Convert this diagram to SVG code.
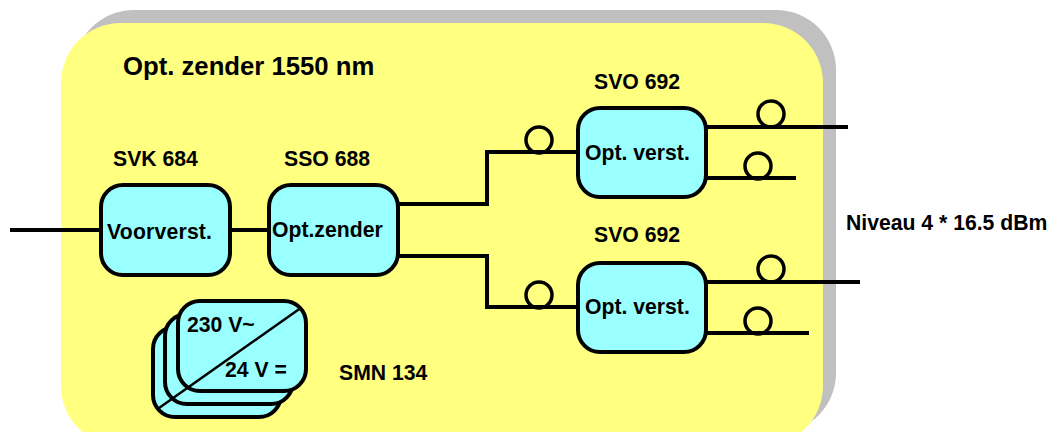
<svg xmlns="http://www.w3.org/2000/svg" width="1050" height="432" viewBox="0 0 1050 432">
<style>
text{font-family:"Liberation Sans",Arial,sans-serif;font-weight:bold;font-size:21.2px;fill:#000}
.box{fill:#99ffff;stroke:#000;stroke-width:4}
.ln{fill:none;stroke:#000;stroke-width:4;stroke-linejoin:miter}
.coil{fill:none;stroke:#000;stroke-width:3.5}
</style>
<rect width="1050" height="432" fill="#fff"/>
<g id="panel">
<rect x="74" y="10" width="762" height="423" rx="60" fill="#c0c0c0"/>
<rect x="61" y="23" width="762" height="423" rx="60" fill="#ffff80"/>
</g>
<text x="123" y="75" style="font-size:25.7px">Opt. zender 1550 nm</text>
<g id="connectors">
<path class="ln" d="M10 230H100M230 230H268M398 204H487V152H578M398 256H487V307H578M706 127H848M706 178H796M706 282H860M706 333H809"/>
<circle class="coil" cx="539" cy="140" r="13"/>
<circle class="coil" cx="539" cy="295" r="13"/>
<circle class="coil" cx="771" cy="114" r="13"/>
<circle class="coil" cx="758" cy="166" r="13"/>
<circle class="coil" cx="771" cy="269" r="13"/>
<circle class="coil" cx="758" cy="321" r="13"/>
</g>
<g id="svk684"><rect class="box" x="101" y="185" width="129" height="90" rx="22"/>
<text x="107" y="239" textLength="105">Voorverst.</text><text x="113" y="166">SVK 684</text></g>
<g id="sso688"><rect class="box" x="269" y="185" width="129" height="90" rx="22"/>
<text x="272" y="237">Opt.zender</text><text x="284" y="166">SSO 688</text></g>
<g id="svo692a"><rect class="box" x="578" y="108" width="128" height="89" rx="22"/>
<text x="585" y="160">Opt. verst.</text><text x="594" y="89">SVO 692</text></g>
<g id="svo692b"><rect class="box" x="578" y="263" width="128" height="89" rx="22"/>
<text x="585" y="314">Opt. verst.</text><text x="594" y="242">SVO 692</text></g>
<g id="smn134">
<rect class="box" x="153" y="327" width="128" height="90" rx="22"/>
<rect class="box" x="165" y="314" width="128" height="90" rx="22"/>
<rect class="box" x="178" y="301" width="128" height="90" rx="22"/>
<path d="M300 308.500L159 408" stroke="#000" stroke-width="2.500" fill="none"/>
<text x="187" y="332">230 V~</text><text x="225" y="377">24 V =</text>
<text x="339" y="380">SMN 134</text>
</g>
<text x="846" y="230">Niveau 4 * 16.5 dBm</text>
</svg>
